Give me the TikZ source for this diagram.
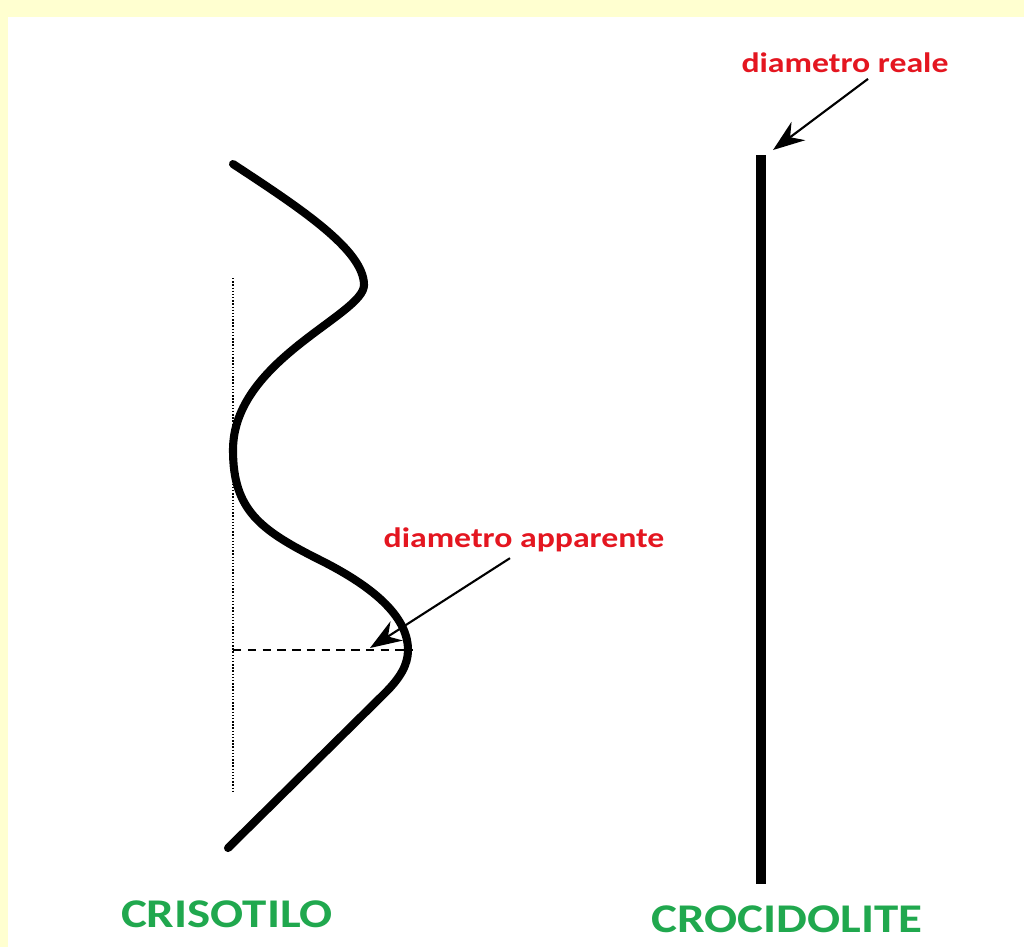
\documentclass[tikz,border=0pt]{standalone}
\usepackage{fontspec}
\setmainfont{Carlito}
\usepackage{graphicx}
\usepackage{tikz}
\usetikzlibrary{arrows.meta}
\usetikzlibrary{calc}
\definecolor{pageYellow}{RGB}{255,255,208}
\definecolor{labelRed}{RGB}{228,22,32}
\definecolor{nameGreen}{RGB}{32,168,78}
\newcommand{\stretchText}[1]{\scalebox{1.2}[1]{#1}}
\tikzset{
  fibre/.style={line width=2.3pt, line cap=round, line join=round},
  pointer/.style={line width=0.6pt, -{Stealth[length=9pt, width=6.5pt]}},
  redlabel/.style={text=labelRed, font=\fontsize{8}{9}\selectfont\bfseries, inner sep=0pt, anchor=base},
  greenlabel/.style={text=nameGreen, font=\fontsize{11.6}{13}\selectfont\bfseries, inner sep=0pt, anchor=base}
}

\begin{document}
\begin{tikzpicture}[x=0.01cm, y=-0.01cm]
%%%%%%%%%%%%%%%%%%

%Background
	\useasboundingbox (0,0) rectangle (1024,947);
	\fill[pageYellow] (0,0) rectangle (1024,947);
	\fill[white] (8,17) rectangle (1024,947);

%Reference lines
	\coordinate (dotTop) at (233,278);
	\coordinate (dotBot) at (233,792);
	\coordinate (dashEnd) at (413,650);
	\draw[line width=0.5pt, dash pattern=on 0.4pt off 0.5pt] (dotTop) -- (dotBot);
	\draw[line width=0.6pt, dash pattern=on 2.4pt off 1.8pt] (dotTop |- dashEnd) -- (dashEnd);

% Crisotilo fibre
	\draw[fibre] (233,164) .. controls (300,208) and (364,250) .. (364,285)
		.. controls (364,315) and (233,360) .. (233,450)
		.. controls (233,510) and (260,530) .. (320,560)
		.. controls (370,585) and (408,615) .. (408,650)
		.. controls (408,665) and (400,678) .. (385,693)
		-- (228,848);

% Crocidolite fibre
	\coordinate (crocTop) at (761,155);
	\coordinate (crocBot) at (761,884);
	\draw[line width=2.9pt] (crocTop) -- (crocBot);

% Labels
	\node[redlabel] (reale) at (845,72) {\stretchText{diametro reale}};
	\node[redlabel] (apparente) at (524,547) {\stretchText{diametro apparente}};
	\node[greenlabel] (crisotilo) at (227,927) {\stretchText{CRISOTILO}};
	\node[greenlabel] (crocidolite) at (787,932) {\stretchText{CROCIDOLITE}};

% Pointers
	\coordinate (realeTip) at (773,150);
	\coordinate (apparenteTip) at (370,648);
	\draw[pointer] ($(reale.south)+(23,6)$) -- (realeTip);
	\draw[pointer] ($(apparente.south)+(-14,6)$) -- (apparenteTip);

\end{tikzpicture}
\end{document}
